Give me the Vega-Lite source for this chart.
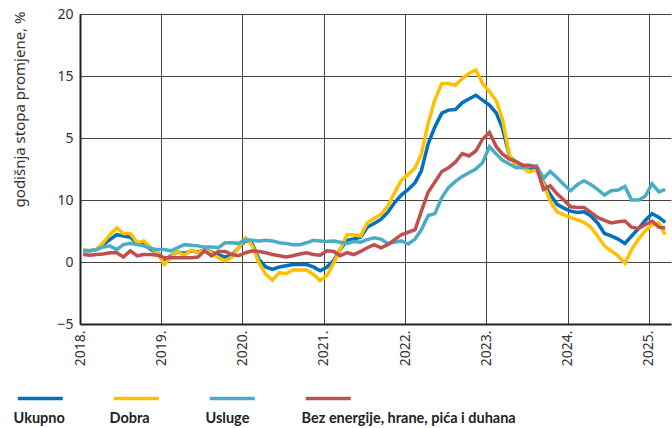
{
  "$schema": "https://vega.github.io/schema/vega-lite/v6.json",
  "width": 591,
  "height": 310,
  "autosize": {"type": "none"},
  "padding": {"left": 80, "top": 14, "right": 1, "bottom": 104},
  "background": "white",
  "config": {"view": {"stroke": null}, "font": "Noto Sans"},
  "data": {
    "values": [
      {"d": "2018-01-15", "Ukupno": 0.9, "Dobra": 0.95, "Usluge": 0.95, "Bez energije, hrane, pića i duhana": 0.6},
      {"d": "2018-02-15", "Ukupno": 0.9, "Dobra": 0.9, "Usluge": 0.9, "Bez energije, hrane, pića i duhana": 0.55},
      {"d": "2018-03-15", "Ukupno": 1.0, "Dobra": 1.0, "Usluge": 1.0, "Bez energije, hrane, pića i duhana": 0.6},
      {"d": "2018-04-15", "Ukupno": 1.4, "Dobra": 1.55, "Usluge": 1.2, "Bez energije, hrane, pića i duhana": 0.65},
      {"d": "2018-05-15", "Ukupno": 1.8, "Dobra": 2.2, "Usluge": 1.3, "Bez energije, hrane, pića i duhana": 0.75},
      {"d": "2018-06-15", "Ukupno": 2.2, "Dobra": 2.75, "Usluge": 1.0, "Bez energije, hrane, pića i duhana": 0.75},
      {"d": "2018-07-15", "Ukupno": 2.1, "Dobra": 2.3, "Usluge": 1.4, "Bez energije, hrane, pića i duhana": 0.4},
      {"d": "2018-08-15", "Ukupno": 2.0, "Dobra": 2.3, "Usluge": 1.5, "Bez energije, hrane, pića i duhana": 0.9},
      {"d": "2018-09-15", "Ukupno": 1.5, "Dobra": 1.55, "Usluge": 1.4, "Bez energije, hrane, pića i duhana": 0.5},
      {"d": "2018-10-15", "Ukupno": 1.4, "Dobra": 1.7, "Usluge": 1.3, "Bez energije, hrane, pića i duhana": 0.6},
      {"d": "2018-11-15", "Ukupno": 1.0, "Dobra": 1.15, "Usluge": 1.1, "Bez energije, hrane, pića i duhana": 0.6},
      {"d": "2018-12-15", "Ukupno": 0.75, "Dobra": 0.75, "Usluge": 1.0, "Bez energije, hrane, pića i duhana": 0.55},
      {"d": "2019-01-15", "Ukupno": 0.15, "Dobra": -0.2, "Usluge": 1.0, "Bez energije, hrane, pića i duhana": 0.35},
      {"d": "2019-02-15", "Ukupno": 0.5, "Dobra": 0.4, "Usluge": 0.9, "Bez energije, hrane, pića i duhana": 0.35},
      {"d": "2019-03-15", "Ukupno": 0.8, "Dobra": 0.85, "Usluge": 1.15, "Bez energije, hrane, pića i duhana": 0.35},
      {"d": "2019-04-15", "Ukupno": 0.7, "Dobra": 0.55, "Usluge": 1.4, "Bez energije, hrane, pića i duhana": 0.35},
      {"d": "2019-05-15", "Ukupno": 0.9, "Dobra": 0.95, "Usluge": 1.35, "Bez energije, hrane, pića i duhana": 0.35},
      {"d": "2019-06-15", "Ukupno": 0.8, "Dobra": 0.75, "Usluge": 1.3, "Bez energije, hrane, pića i duhana": 0.4},
      {"d": "2019-07-15", "Ukupno": 1.0, "Dobra": 0.95, "Usluge": 1.2, "Bez energije, hrane, pića i duhana": 0.9},
      {"d": "2019-08-15", "Ukupno": 0.8, "Dobra": 0.75, "Usluge": 1.2, "Bez energije, hrane, pića i duhana": 0.5},
      {"d": "2019-09-15", "Ukupno": 0.6, "Dobra": 0.35, "Usluge": 1.15, "Bez energije, hrane, pića i duhana": 0.85},
      {"d": "2019-10-15", "Ukupno": 0.4, "Dobra": 0.1, "Usluge": 1.55, "Bez energije, hrane, pića i duhana": 0.85},
      {"d": "2019-11-15", "Ukupno": 0.55, "Dobra": 0.4, "Usluge": 1.55, "Bez energije, hrane, pića i duhana": 0.6},
      {"d": "2019-12-15", "Ukupno": 1.15, "Dobra": 1.15, "Usluge": 1.5, "Bez energije, hrane, pića i duhana": 0.5},
      {"d": "2020-01-15", "Ukupno": 1.75, "Dobra": 1.95, "Usluge": 1.8, "Bez energije, hrane, pića i duhana": 0.75},
      {"d": "2020-02-15", "Ukupno": 1.45, "Dobra": 1.3, "Usluge": 1.75, "Bez energije, hrane, pića i duhana": 0.9},
      {"d": "2020-03-15", "Ukupno": 0.2, "Dobra": -0.05, "Usluge": 1.7, "Bez energije, hrane, pića i duhana": 0.85},
      {"d": "2020-04-15", "Ukupno": -0.4, "Dobra": -1.0, "Usluge": 1.75, "Bez energije, hrane, pića i duhana": 0.75},
      {"d": "2020-05-15", "Ukupno": -0.6, "Dobra": -1.45, "Usluge": 1.7, "Bez energije, hrane, pića i duhana": 0.6},
      {"d": "2020-06-15", "Ukupno": -0.4, "Dobra": -0.85, "Usluge": 1.55, "Bez energije, hrane, pića i duhana": 0.5},
      {"d": "2020-07-15", "Ukupno": -0.3, "Dobra": -0.95, "Usluge": 1.5, "Bez energije, hrane, pića i duhana": 0.4},
      {"d": "2020-08-15", "Ukupno": -0.2, "Dobra": -0.65, "Usluge": 1.4, "Bez energije, hrane, pića i duhana": 0.5},
      {"d": "2020-09-15", "Ukupno": -0.2, "Dobra": -0.65, "Usluge": 1.4, "Bez energije, hrane, pića i duhana": 0.65},
      {"d": "2020-10-15", "Ukupno": -0.2, "Dobra": -0.65, "Usluge": 1.55, "Bez energije, hrane, pića i duhana": 0.75},
      {"d": "2020-11-15", "Ukupno": -0.4, "Dobra": -1.0, "Usluge": 1.75, "Bez energije, hrane, pića i duhana": 0.6},
      {"d": "2020-12-15", "Ukupno": -0.7, "Dobra": -1.5, "Usluge": 1.7, "Bez energije, hrane, pića i duhana": 0.55},
      {"d": "2021-01-15", "Ukupno": -0.4, "Dobra": -1.1, "Usluge": 1.65, "Bez energije, hrane, pića i duhana": 0.9},
      {"d": "2021-02-15", "Ukupno": 0.15, "Dobra": -0.05, "Usluge": 1.7, "Bez energije, hrane, pića i duhana": 0.85},
      {"d": "2021-03-15", "Ukupno": 1.0, "Dobra": 1.0, "Usluge": 1.6, "Bez energije, hrane, pića i duhana": 0.5},
      {"d": "2021-04-15", "Ukupno": 1.75, "Dobra": 2.2, "Usluge": 1.5, "Bez energije, hrane, pića i duhana": 0.75},
      {"d": "2021-05-15", "Ukupno": 1.85, "Dobra": 2.2, "Usluge": 1.65, "Bez energije, hrane, pića i duhana": 0.6},
      {"d": "2021-06-15", "Ukupno": 2.0, "Dobra": 2.1, "Usluge": 1.6, "Bez energije, hrane, pića i duhana": 0.85},
      {"d": "2021-07-15", "Ukupno": 2.8, "Dobra": 3.15, "Usluge": 1.8, "Bez energije, hrane, pića i duhana": 1.15},
      {"d": "2021-08-15", "Ukupno": 3.1, "Dobra": 3.5, "Usluge": 1.95, "Bez energije, hrane, pića i duhana": 1.4},
      {"d": "2021-09-15", "Ukupno": 3.45, "Dobra": 3.85, "Usluge": 1.85, "Bez energije, hrane, pića i duhana": 1.15},
      {"d": "2021-10-15", "Ukupno": 4.0, "Dobra": 4.5, "Usluge": 1.5, "Bez energije, hrane, pića i duhana": 1.4},
      {"d": "2021-11-15", "Ukupno": 4.8, "Dobra": 5.6, "Usluge": 1.6, "Bez energije, hrane, pića i duhana": 1.8},
      {"d": "2021-12-15", "Ukupno": 5.4, "Dobra": 6.6, "Usluge": 1.7, "Bez energije, hrane, pića i duhana": 2.2},
      {"d": "2022-01-15", "Ukupno": 5.85, "Dobra": 7.05, "Usluge": 1.45, "Bez energije, hrane, pića i duhana": 2.4},
      {"d": "2022-02-15", "Ukupno": 6.4, "Dobra": 7.6, "Usluge": 1.85, "Bez energije, hrane, pića i duhana": 2.6},
      {"d": "2022-03-15", "Ukupno": 7.35, "Dobra": 8.7, "Usluge": 2.6, "Bez energije, hrane, pića i duhana": 4.1},
      {"d": "2022-04-15", "Ukupno": 9.55, "Dobra": 11.2, "Usluge": 3.75, "Bez energije, hrane, pića i duhana": 5.65},
      {"d": "2022-05-15", "Ukupno": 10.9, "Dobra": 13.1, "Usluge": 3.9, "Bez energije, hrane, pića i duhana": 6.45},
      {"d": "2022-06-15", "Ukupno": 12.0, "Dobra": 14.4, "Usluge": 5.2, "Bez energije, hrane, pića i duhana": 7.3},
      {"d": "2022-07-15", "Ukupno": 12.25, "Dobra": 14.4, "Usluge": 6.0, "Bez energije, hrane, pića i duhana": 7.6},
      {"d": "2022-08-15", "Ukupno": 12.3, "Dobra": 14.25, "Usluge": 6.5, "Bez energije, hrane, pića i duhana": 8.05},
      {"d": "2022-09-15", "Ukupno": 12.85, "Dobra": 14.8, "Usluge": 6.9, "Bez energije, hrane, pića i duhana": 8.75},
      {"d": "2022-10-15", "Ukupno": 13.15, "Dobra": 15.2, "Usluge": 7.2, "Bez energije, hrane, pića i duhana": 8.55},
      {"d": "2022-11-15", "Ukupno": 13.45, "Dobra": 15.5, "Usluge": 7.5, "Bez energije, hrane, pića i duhana": 8.95},
      {"d": "2022-12-15", "Ukupno": 13.05, "Dobra": 14.4, "Usluge": 8.0, "Bez energije, hrane, pića i duhana": 9.9},
      {"d": "2023-01-15", "Ukupno": 12.65, "Dobra": 13.75, "Usluge": 9.3, "Bez energije, hrane, pića i duhana": 10.45},
      {"d": "2023-02-15", "Ukupno": 12.0, "Dobra": 13.0, "Usluge": 8.7, "Bez energije, hrane, pića i duhana": 9.3},
      {"d": "2023-03-15", "Ukupno": 10.75, "Dobra": 11.5, "Usluge": 8.2, "Bez energije, hrane, pića i duhana": 8.7},
      {"d": "2023-04-15", "Ukupno": 8.55, "Dobra": 8.6, "Usluge": 7.9, "Bez energije, hrane, pića i duhana": 8.3},
      {"d": "2023-05-15", "Ukupno": 8.0, "Dobra": 7.75, "Usluge": 7.6, "Bez energije, hrane, pića i duhana": 8.1},
      {"d": "2023-06-15", "Ukupno": 7.75, "Dobra": 7.55, "Usluge": 7.65, "Bez energije, hrane, pića i duhana": 7.8},
      {"d": "2023-07-15", "Ukupno": 7.6, "Dobra": 7.25, "Usluge": 7.7, "Bez energije, hrane, pića i duhana": 7.8},
      {"d": "2023-08-15", "Ukupno": 7.5, "Dobra": 7.45, "Usluge": 7.75, "Bez energije, hrane, pića i duhana": 7.6},
      {"d": "2023-09-15", "Ukupno": 6.4, "Dobra": 6.3, "Usluge": 6.75, "Bez energije, hrane, pića i duhana": 5.86},
      {"d": "2023-10-15", "Ukupno": 5.45, "Dobra": 4.9, "Usluge": 7.3, "Bez energije, hrane, pića i duhana": 6.15},
      {"d": "2023-11-15", "Ukupno": 4.65, "Dobra": 4.05, "Usluge": 6.8, "Bez energije, hrane, pića i duhana": 5.5},
      {"d": "2023-12-15", "Ukupno": 4.35, "Dobra": 3.8, "Usluge": 6.25, "Bez energije, hrane, pića i duhana": 5.0},
      {"d": "2024-01-15", "Ukupno": 4.1, "Dobra": 3.6, "Usluge": 5.75, "Bez energije, hrane, pića i duhana": 4.45},
      {"d": "2024-02-15", "Ukupno": 4.0, "Dobra": 3.4, "Usluge": 6.25, "Bez energije, hrane, pića i duhana": 4.4},
      {"d": "2024-03-15", "Ukupno": 4.05, "Dobra": 3.2, "Usluge": 6.55, "Bez energije, hrane, pića i duhana": 4.4},
      {"d": "2024-04-15", "Ukupno": 3.7, "Dobra": 2.8, "Usluge": 6.25, "Bez energije, hrane, pića i duhana": 4.0},
      {"d": "2024-05-15", "Ukupno": 3.15, "Dobra": 2.1, "Usluge": 5.85, "Bez energije, hrane, pića i duhana": 3.6},
      {"d": "2024-06-15", "Ukupno": 2.3, "Dobra": 1.3, "Usluge": 5.4, "Bez energije, hrane, pića i duhana": 3.35},
      {"d": "2024-07-15", "Ukupno": 2.1, "Dobra": 0.9, "Usluge": 5.75, "Bez energije, hrane, pića i duhana": 3.15},
      {"d": "2024-08-15", "Ukupno": 1.85, "Dobra": 0.5, "Usluge": 5.8, "Bez energije, hrane, pića i duhana": 3.25},
      {"d": "2024-09-15", "Ukupno": 1.5, "Dobra": -0.1, "Usluge": 6.1, "Bez energije, hrane, pića i duhana": 3.3},
      {"d": "2024-10-15", "Ukupno": 2.1, "Dobra": 1.0, "Usluge": 5.0, "Bez energije, hrane, pića i duhana": 2.8},
      {"d": "2024-11-15", "Ukupno": 2.7, "Dobra": 1.85, "Usluge": 5.0, "Bez energije, hrane, pića i duhana": 2.7},
      {"d": "2024-12-15", "Ukupno": 3.35, "Dobra": 2.5, "Usluge": 5.3, "Bez energije, hrane, pića i duhana": 3.0},
      {"d": "2025-01-15", "Ukupno": 3.9, "Dobra": 3.0, "Usluge": 6.3, "Bez energije, hrane, pića i duhana": 3.3},
      {"d": "2025-02-15", "Ukupno": 3.6, "Dobra": 3.15, "Usluge": 5.65, "Bez energije, hrane, pića i duhana": 2.8},
      {"d": "2025-03-15", "Ukupno": 3.2, "Dobra": 2.2, "Usluge": 5.85, "Bez energije, hrane, pića i duhana": 2.75}
    ]
  },
  "transform": [
    {"fold": ["Ukupno", "Dobra", "Usluge", "Bez energije, hrane, pića i duhana"], "as": ["serija", "vrijednost"]}
  ],
  "mark": {"type": "line", "strokeWidth": 3.5, "strokeCap": "butt", "clip": true},
  "encoding": {
    "x": {
      "field": "d",
      "type": "temporal",
      "scale": {
        "type": "utc",
        "domain": [
          {"year": 2018, "month": 1, "date": 1, "utc": true},
          {"year": 2025, "month": 4, "date": 10, "utc": true}
        ]
      },
      "axis": {
        "title": null,
        "tickCount": "year",
        "format": "%Y.",
        "labelAngle": 270,
        "labelFontSize": 14,
        "labelColor": "#333333",
        "labelPadding": 6,
        "labelFlush": false,
        "labelOverlap": false,
        "ticks": false,
        "grid": true,
        "gridColor": "#444444",
        "gridWidth": 1,
        "gridOpacity": 1,
        "domainColor": "#222222",
        "domainWidth": 2
      }
    },
    "y": {
      "field": "vrijednost",
      "type": "quantitative",
      "scale": {"domain": [-5, 20], "nice": false, "zero": false},
      "axis": {
        "title": "godišnja stopa promjene, %",
        "titleFontSize": 15,
        "titleFontWeight": "normal",
        "titleColor": "#333333",
        "titleAnchor": "end",
        "titleY": -3,
        "titlePadding": 29,
        "values": [-5, 0, 5, 10, 15, 20],
        "labelExpr": "datum.value == 5 ? '10' : datum.value == 10 ? '5' : datum.label",
        "labelFontSize": 14,
        "labelColor": "#333333",
        "labelPadding": 7,
        "ticks": false,
        "grid": true,
        "gridColor": "#444444",
        "gridWidth": 1,
        "gridOpacity": 1,
        "domainColor": "#222222",
        "domainWidth": 2
      }
    },
    "color": {
      "field": "serija",
      "type": "nominal",
      "scale": {
        "domain": ["Ukupno", "Dobra", "Usluge", "Bez energije, hrane, pića i duhana"],
        "range": ["#0070c0", "#ffc000", "#4bacc6", "#c0504d"]
      },
      "legend": {
        "orient": "none",
        "legendX": -47,
        "legendY": 398,
        "direction": "horizontal",
        "title": null,
        "padding": 0,
        "symbolType": "M-4.5,-4.2L4.5,-4.2",
        "symbolSize": 100,
        "symbolStrokeWidth": 3.5,
        "symbolOffset": 0,
        "labelFont": "Lato",
        "labelFontSize": 14.5,
        "labelFontWeight": "bold",
        "labelColor": "#222222",
        "labelOffset": -34,
        "labelLimit": 300,
        "columnPadding": 36
      }
    }
  }
}
